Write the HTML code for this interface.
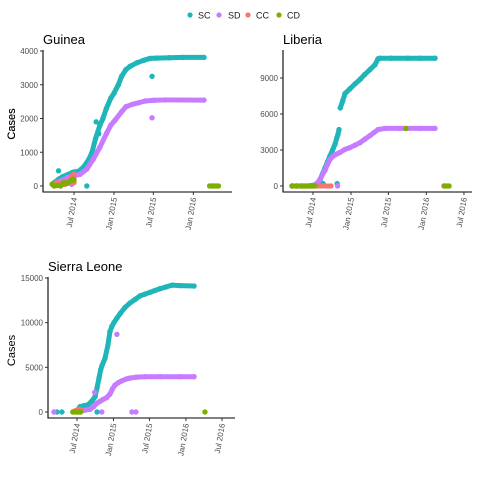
<!DOCTYPE html>
<html><head><meta charset="utf-8"><style>
body{margin:0;background:#fff}
svg text{font-family:"Liberation Sans",sans-serif}
</style></head><body>
<svg id="c" width="480" height="480" xmlns="http://www.w3.org/2000/svg">
<g font-size="9" fill="#1a1a1a">
<circle cx="190" cy="15" r="2.6" fill="#1FB5B9"/><text x="198" y="18.5">SC</text>
<circle cx="219" cy="15" r="2.6" fill="#C77CFF"/><text x="228" y="18.5">SD</text>
<circle cx="248" cy="15" r="2.6" fill="#F8766D"/><text x="256" y="18.5">CC</text>
<circle cx="279" cy="15" r="2.6" fill="#7CAE00"/><text x="287" y="18.5">CD</text>
</g>
</svg>
<script>
// day offsets from 2014-01-01, values = cumulative cases
const guineaSC=[[81,50],[90,100],[110,200],[130,280],[150,330],[170,390],[181,415],[200,430],[215,500],[230,600],[250,800],[264,1000],[280,1400],[300,1800],[314,2000],[330,2300],[350,2600],[365,2750],[385,3000],[400,3250],[420,3450],[440,3550],[470,3650],[500,3720],[530,3780],[560,3790],[620,3800],[680,3810],[779,3810]];
const guineaSCout=[[110,450],[240,0],[540,3250],[283,1900],[295,1550]];
const guineaSD=[[85,50],[120,150],[150,250],[181,300],[210,350],[240,500],[270,800],[300,1150],[330,1550],[350,1800],[370,1950],[400,2200],[420,2350],[450,2420],[480,2470],[510,2520],[550,2540],[600,2550],[779,2545]];
const guineaSDout=[[540,2020],[170,50]];
const guineaCC=[[81,50],[100,100],[120,80],[140,50],[160,150],[175,300],[180,350],[181,100]];
const guineaCD=[[81,60],[90,0],[110,20],[120,0],[135,100],[150,80],[165,150],[175,200],[181,180],[805,0],[815,0],[825,0],[835,0],[845,0]];

const liberiaSC=[[79,0],[100,0],[130,0],[160,0],[181,50],[200,100],[215,500],[227,1000],[239,1500],[251,2000],[263,2500],[276,3000],[288,3500],[296,4000],[302,4300],[307,4700],[313,6500],[325,7100],[336,7700],[360,8100],[384,8500],[410,8900],[432,9300],[457,9700],[481,10100],[496,10600],[505,10650],[560,10650],[640,10650],[700,10650],[772,10650]];
const liberiaSCout=[[298,200],[230,200]];
const liberiaSD=[[79,0],[110,0],[150,0],[181,0],[205,300],[222,800],[239,1300],[251,1800],[263,2200],[276,2450],[288,2600],[300,2700],[312,2800],[336,3050],[360,3200],[384,3400],[408,3600],[432,3900],[457,4200],[476,4450],[496,4700],[529,4800],[600,4800],[700,4800],[772,4800]];
const liberiaSDout=[[300,0]];
const liberiaCC=[[81,0],[100,0],[130,0],[170,0],[268,0],[815,0]];
const liberiaCD=[[81,0],[100,0],[120,0],[140,0],[160,0],[175,0],[190,0],[631,4800],[818,0],[828,0],[840,0]];

const sierraSC=[[181,100],[196,600],[216,700],[236,800],[255,1200],[272,1700],[282,2700],[292,3800],[300,4700],[307,5200],[322,6000],[337,7500],[347,9000],[357,9600],[367,10000],[382,10500],[398,11000],[423,11700],[448,12200],[474,12600],[499,13000],[524,13200],[549,13400],[574,13600],[599,13800],[630,14000],[660,14200],[700,14150],[771,14100]];
const sierraSCout=[[80,0],[105,0],[282,0]];
const sierraSD=[[181,0],[196,100],[220,200],[247,300],[265,600],[282,1000],[297,1200],[312,1400],[330,1600],[347,2000],[360,2600],[372,3000],[390,3300],[408,3500],[430,3700],[448,3800],[480,3900],[524,3950],[600,3950],[700,3950],[771,3950]];
const sierraSDout=[[65,0],[382,8700],[306,0],[458,0],[478,0],[270,2200]];
const sierraCC=[[170,100],[180,200],[190,300],[200,250]];
const sierraCD=[[160,0],[170,0],[180,0],[190,0],[200,0],[826,0]];

const guineaTicks=[0,1000,2000,3000,4000];
const liberiaTicks=[0,3000,6000,9000];
const sierraTicks=[0,5000,10000,15000];
const dateTicks=[181,365,546,730,912];
const dateLabels=["Jul 2014","Jan 2015","Jul 2015","Jan 2016","Jul 2016"];

const COL={SC:"#1FB5B9",SD:"#C77CFF",CC:"#F8766D",CD:"#7CAE00"};
const svg=document.getElementById('c');
const NS="http://www.w3.org/2000/svg";
function mk(t,a,p){const e=document.createElementNS(NS,t);for(const k in a)e.setAttribute(k,a[k]);(p||svg).appendChild(e);return e;}

function panel(name,title,cfg,ticks,nDates,series){
  const g=mk('g',{});
  
  
  const X=d=>cfg.x0+(d-181)*cfg.xs;
  const Y=v=>cfg.y0-v*cfg.ys;
  const t=mk('text',{x:cfg.ax,y:cfg.top-6,'font-size':13,fill:'#000'},g);t.textContent=title;
  
  
  const yl=mk('text',{x:0,y:0,'font-size':11,fill:'#000','text-anchor':'middle',transform:`translate(15,${(cfg.top+cfg.bot)/2+3}) rotate(-90)`},g);yl.textContent='Cases';
  
  
  for(const s of series){
    const [key,pts,out]=s;
    const sg=mk('g',{},g);
    
    
    for(let i=1;i<pts.length;i++){
      if(pts[i][0]-pts[i-1][0]>200)continue;
      if(Math.abs(pts[i][1]-pts[i-1][1])*cfg.ys>15)continue;
      const l=mk('line',{x1:X(pts[i-1][0]),y1:Y(pts[i-1][1]),x2:X(pts[i][0]),y2:Y(pts[i][1]),stroke:COL[key],'stroke-width':5,'stroke-linecap':'round'},sg);
      
      
    }
    for(const p of pts.concat(out||[])){
      const c=mk('circle',{cx:X(p[0]),cy:Y(p[1]),r:2.7,fill:COL[key]},sg);
      
      
    }
  }
  const ax=mk('path',{d:`M${cfg.ax} ${cfg.top}V${cfg.bot}H${cfg.right}`,stroke:'#000','stroke-width':1.1,fill:'none'},g);
  
  
  for(const v of ticks){
    mk('line',{x1:cfg.ax-3,x2:cfg.ax,y1:Y(v),y2:Y(v),stroke:'#333'},g);
    const tt=mk('text',{x:cfg.ax-5,y:Y(v)+3,'font-size':8,fill:'#4d4d4d','text-anchor':'end'},g);tt.textContent=v;
    
    
  }
  for(let i=0;i<nDates;i++){
    const x=X(dateTicks[i]);
    mk('line',{x1:x,x2:x,y1:cfg.bot,y2:cfg.bot+3,stroke:'#333'},g);
    const tt=mk('text',{x:0,y:0,'font-size':8,fill:'#4d4d4d','text-anchor':'end',transform:`translate(${x+3},${cfg.bot+6}) rotate(-80)`},g);tt.textContent=dateLabels[i];
    
    
  }
}
panel('guinea','Guinea',{x0:74,xs:0.2174,y0:186,ys:135/4000,ax:43,top:50,bot:192,right:232},guineaTicks,4,
 [['SC',guineaSC,guineaSCout],['SD',guineaSD,guineaSDout],['CC',guineaCC],['CD',guineaCD]]);
panel('liberia','Liberia',{x0:313,xs:0.2065,y0:186,ys:36/3000,ax:283,top:50,bot:192,right:472},liberiaTicks,5,
 [['SC',liberiaSC,liberiaSCout],['SD',liberiaSD,liberiaSDout],['CC',liberiaCC],['CD',liberiaCD]]);
panel('sierra-leone','Sierra Leone',{x0:77,xs:0.1984,y0:412,ys:134/15000,ax:48,top:277,bot:418,right:235},sierraTicks,5,
 [['SC',sierraSC,sierraSCout],['SD',sierraSD,sierraSDout],['CC',sierraCC],['CD',sierraCD]]);
</script>
</body></html>
